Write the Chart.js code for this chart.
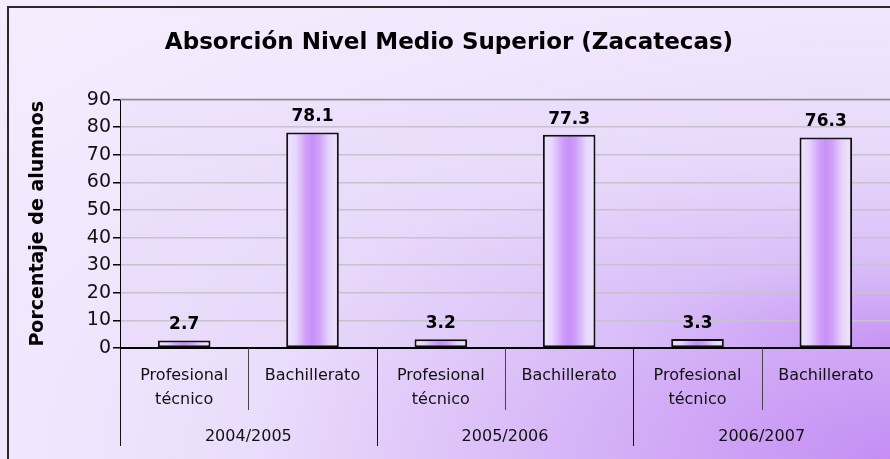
<!DOCTYPE html>
<html>
<head>
<meta charset="utf-8">
<script src="https://cdn.jsdelivr.net/npm/chart.js@4.4.0/dist/chart.umd.min.js"></script>
<style>
  html, body { margin: 0; padding: 0; background: #fff; }
  #wrap { width: 890px; height: 459px; }
</style>
</head>
<body>
<div id="wrap"><canvas id="absorcion" width="890" height="459"></canvas></div>
<script>
// data
const groups = ['2004/2005', '2005/2006', '2006/2007'];
const subLabels = [['Profesional', 'técnico'], 'Bachillerato', ['Profesional', 'técnico'], 'Bachillerato', ['Profesional', 'técnico'], 'Bachillerato'];
const values = [2.7, 78.1, 3.2, 77.3, 3.3, 76.3];
const yMin = 0, yMax = 90, yStep = 10;

const FONT = "'DejaVu Sans', Verdana, sans-serif";

// light-edge / purple-centre fill for each bar, computed from the x scale
function barFill(ctx) {
    const chart = ctx.chart;
    const xs = chart.scales.x;
    if (!xs || !chart.chartArea) return '#d8b8f8';
    const cx = xs.getPixelForValue(ctx.dataIndex);
    const half = (xs.width / values.length) * 0.41 / 2;
    const g = chart.ctx.createLinearGradient(cx - half, 0, cx + half, 0);
    g.addColorStop(0, '#f0e5fd');
    g.addColorStop(0.18, '#e6d6fc');
    g.addColorStop(0.38, '#cf9ff9');
    g.addColorStop(0.5, '#c791f8');
    g.addColorStop(0.62, '#cf9ff9');
    g.addColorStop(0.82, '#e6d6fc');
    g.addColorStop(1, '#f0e5fd');
    return g;
}

// "from corner" fill: radial from the bottom-right corner, stretched to the box
function cornerFill(ctx, x, y, w, h, stops) {
    ctx.save();
    ctx.translate(x, y);
    ctx.scale(w, h);
    const g = ctx.createRadialGradient(1, 1, 0, 1, 1, 1.42);
    stops.forEach(s => g.addColorStop(s[0], s[1]));
    ctx.fillStyle = g;
    ctx.fillRect(0, 0, 1, 1);
    ctx.restore();
}

const backdrop = {
    id: 'backdrop',
    beforeDraw(chart) {
        const {ctx, width, height, chartArea: a} = chart;
        cornerFill(ctx, 0, 0, width, height, [
            [0, '#c48ef4'], [0.25, '#d6b4f7'], [0.5, '#eadcfb'], [0.7, '#f1e7fd'], [1, '#f5edfd']
        ]);
        cornerFill(ctx, a.left, a.top, a.right - a.left, a.bottom - a.top, [
            [0, '#c793f5'], [0.25, '#d9bff8'], [0.56, '#e8d9fa'], [1, '#efe4fc']
        ]);

        // outer frame
        ctx.save();
        ctx.strokeStyle = '#2a2a2a';
        ctx.lineWidth = 2;
        ctx.beginPath();
        ctx.moveTo(8, height);
        ctx.lineTo(8, 7);
        ctx.lineTo(width, 7);
        ctx.stroke();
        ctx.restore();
    },
    afterDraw(chart) {
        const {ctx, chartArea: a} = chart;
        const xs = chart.scales.x;
        const ys = chart.scales.y;
        ctx.save();
        // plot area top edge
        ctx.strokeStyle = '#888';
        ctx.lineWidth = 1.5;
        ctx.beginPath();
        ctx.moveTo(a.left, a.top);
        ctx.lineTo(a.right, a.top);
        ctx.stroke();

        // category dividers below the axis
        const step = xs.width / subLabels.length;
        for (let i = 0; i <= subLabels.length; i++) {
            const x = Math.round(xs.left + i * step) + 0.5;
            const major = i % 2 === 0;
            ctx.strokeStyle = major ? '#111' : '#444';
            ctx.lineWidth = 1;
            ctx.beginPath();
            ctx.moveTo(x, a.bottom);
            ctx.lineTo(x, a.bottom + (major ? 98 : 62));
            ctx.stroke();
        }

        // value labels above bars
        ctx.fillStyle = '#000';
        ctx.font = "bold 17px " + FONT;
        ctx.textAlign = 'center';
        ctx.textBaseline = 'bottom';
        values.forEach((v, i) => {
            ctx.fillText(v.toFixed(1), xs.getPixelForValue(i), ys.getPixelForValue(v) - 7);
        });
        ctx.restore();
    }
};

new Chart(document.getElementById('absorcion'), {
    type: 'bar',
    data: {
        labels: subLabels,
        datasets: [{
            label: 'Porcentaje de alumnos',
            data: values,
            backgroundColor: barFill,
            borderColor: '#111',
            borderWidth: 2,
            borderSkipped: false,
            barPercentage: 0.41,
            categoryPercentage: 1
        }]
    },
    options: {
        responsive: false,
        animation: false,
        devicePixelRatio: 1,
        layout: { padding: { left: 8, right: 0, top: 0, bottom: 0 } },
        plugins: {
            legend: { display: false },
            tooltip: { enabled: false },
            title: {
                display: true,
                text: 'Absorción Nivel Medio Superior (Zacatecas)',
                color: '#000',
                font: { family: FONT, size: 23, weight: 'bold' },
                padding: { top: 29, bottom: 43 }
            }
        },
        scales: {
            x: {
                weight: 0,
                grid: { display: false },
                border: { color: '#000', width: 1 },
                ticks: {
                    color: '#111',
                    font: { family: FONT, size: 16, lineHeight: 1.5 },
                    padding: 8,
                    maxRotation: 0,
                    autoSkip: false
                },
                afterFit: s => { s.height = 68; }
            },
            group: {
                type: 'category',
                labels: groups,
                position: 'bottom',
                offset: true,
                weight: 1,
                grid: { display: false },
                border: { display: false },
                ticks: {
                    color: '#111',
                    font: { family: FONT, size: 16 },
                    padding: 3
                },
                afterFit: s => { s.height = 43; }
            },
            y: {
                min: yMin,
                max: yMax,
                ticks: {
                    stepSize: yStep,
                    color: '#111',
                    font: { family: FONT, size: 19 },
                    padding: 2
                },
                grid: {
                    color: c => c.tick && c.tick.value === 0 ? '#000' : '#c8c2cc',
                    tickColor: '#000',
                    tickLength: 7,
                    lineWidth: 1.5
                },
                border: { color: '#000', width: 1 },
                title: {
                    display: true,
                    text: 'Porcentaje de alumnos',
                    color: '#000',
                    font: { family: FONT, size: 19, weight: 'bold' },
                    padding: { top: 19, bottom: 0 }
                },
                afterFit: s => { s.width = 112; }
            }
        }
    },
    plugins: [backdrop]
});
</script>
</body>
</html>
